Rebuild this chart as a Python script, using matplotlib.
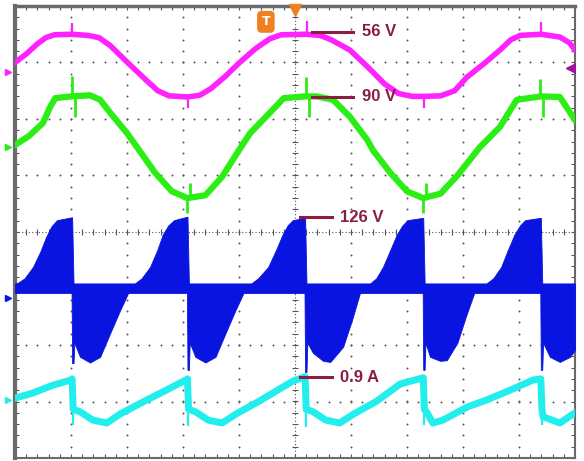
import numpy as np
import matplotlib
matplotlib.use("Agg")
import matplotlib.pyplot as plt
from matplotlib.ticker import MultipleLocator

# scope screen, x and y in divisions (10 x 8, centre at x=5, y=0)
mag_t = [0.00, 0.20, 0.40, 0.55, 0.70, 1.00, 1.30, 1.50, 1.70, 2.02, 2.35, 2.55, 2.75, 3.08, 3.30,
         3.50, 3.75, 4.00, 4.30, 4.55, 4.75, 5.18, 5.45, 5.65, 5.98, 6.30, 6.60, 6.85, 7.10, 7.30,
         7.60, 7.85, 8.07, 8.40, 8.66, 8.85, 9.02, 9.40, 9.73, 9.90, 10.0]
mag_v = [3.00, 3.15, 3.33, 3.44, 3.49, 3.50, 3.48, 3.44, 3.30, 2.99, 2.68, 2.50, 2.41, 2.39, 2.42,
         2.54, 2.75, 2.99, 3.25, 3.42, 3.49, 3.50, 3.48, 3.40, 3.22, 2.92, 2.62, 2.45, 2.40, 2.40,
         2.41, 2.50, 2.74, 3.00, 3.22, 3.40, 3.48, 3.50, 3.45, 3.35, 3.22]
mag_spk_t = [1.02, 3.09, 5.21, 7.30, 9.40]
mag_spk_v = [3.70, 2.20, 3.74, 2.20, 3.71]

grn_t = [0.00, 0.25, 0.50, 0.62, 0.72, 1.00, 1.34, 1.52, 1.70, 2.00, 2.18, 2.50, 2.80, 3.08, 3.40,
         3.70, 4.00, 4.20, 4.54, 4.80, 5.18, 5.39, 5.68, 5.98, 6.29, 6.39, 6.70, 7.00, 7.29, 7.60,
         7.90, 8.30, 8.66, 8.96, 9.39, 9.73, 10.0]
grn_v = [1.54, 1.70, 1.93, 2.20, 2.37, 2.40, 2.42, 2.34, 2.11, 1.75, 1.50, 1.05, 0.72, 0.60, 0.65,
         0.98, 1.45, 1.75, 2.10, 2.37, 2.40, 2.40, 2.34, 2.04, 1.63, 1.45, 1.05, 0.72, 0.60, 0.68,
         1.00, 1.50, 1.86, 2.34, 2.40, 2.39, 1.98]
grn_spk_t = [1.02, 3.08, 5.20, 7.29, 9.38]
grn_spk_v = [2.76, 0.34, 2.74, 0.34, 2.71]
grn_notch_t = [1.07, 3.13, 5.25, 7.34, 9.43]
grn_notch_v = [2.04, 0.86, 2.04, 0.86, 2.04]

blu_t = [0.00, 0.05, 0.17, 0.32, 0.45, 0.55, 0.65, 0.75, 1.01,
         1.02, 1.045, 1.06, 1.16, 1.34, 1.52, 1.70, 1.87, 2.02,
         2.14, 2.26, 2.41, 2.54, 2.64, 2.74, 2.84, 3.07,
         3.08, 3.105, 3.12, 3.22, 3.40, 3.58, 3.76, 3.93, 4.08,
         4.22, 4.34, 4.52, 4.66, 4.78, 4.87, 4.96, 5.17,
         5.18, 5.205, 5.22, 5.32, 5.50, 5.63, 5.86, 6.02, 6.16,
         6.34, 6.45, 6.57, 6.70, 6.82, 6.92, 7.01, 7.28,
         7.29, 7.315, 7.33, 7.41, 7.59, 7.71, 7.90, 8.05, 8.20,
         8.42, 8.54, 8.68, 8.80, 8.92, 9.02, 9.11, 9.38,
         9.39, 9.415, 9.43, 9.55, 9.73, 9.91, 10.0]
blu_hi = [-0.91, -0.90, -0.82, -0.62, -0.35, -0.10, 0.10, 0.21, 0.26,
          0.26, -0.91, -0.91, -0.91, -0.91, -0.91, -0.91, -0.91, -0.91,
          -0.91, -0.82, -0.62, -0.32, -0.04, 0.12, 0.21, 0.27,
          0.27, -0.91, -0.91, -0.91, -0.91, -0.91, -0.91, -0.91, -0.91,
          -0.91, -0.82, -0.62, -0.32, -0.04, 0.12, 0.21, 0.25,
          0.25, -0.91, -0.91, -0.91, -0.91, -0.91, -0.91, -0.91, -0.91,
          -0.91, -0.82, -0.62, -0.32, -0.04, 0.12, 0.21, 0.25,
          0.25, -0.91, -0.91, -0.91, -0.91, -0.91, -0.91, -0.91, -0.91,
          -0.91, -0.82, -0.62, -0.32, -0.04, 0.12, 0.21, 0.25,
          0.25, -0.91, -0.91, -0.91, -0.91, -0.91, -0.91]
blu_lo = [-1.08, -1.08, -1.08, -1.08, -1.08, -1.08, -1.08, -1.08, -1.08,
          -2.32, -2.32, -1.96, -2.21, -2.31, -2.21, -1.79, -1.40, -1.08,
          -1.08, -1.08, -1.08, -1.08, -1.08, -1.08, -1.08, -1.08,
          -2.44, -2.44, -1.96, -2.21, -2.31, -2.21, -1.79, -1.40, -1.08,
          -1.08, -1.08, -1.08, -1.08, -1.08, -1.08, -1.08, -1.08,
          -2.48, -2.48, -1.96, -2.14, -2.28, -2.30, -2.03, -1.55, -1.08,
          -1.08, -1.08, -1.08, -1.08, -1.08, -1.08, -1.08, -1.08,
          -2.44, -2.44, -1.96, -2.21, -2.28, -2.27, -1.96, -1.50, -1.08,
          -1.08, -1.08, -1.08, -1.08, -1.08, -1.08, -1.08, -1.08,
          -2.44, -2.44, -1.96, -2.21, -2.30, -2.21, -2.09]

cyn_t = [0.00, 0.32, 0.68, 1.00, 1.02, 1.04, 1.16, 1.39, 1.64, 1.88, 2.30, 2.70, 3.05, 3.08, 3.10,
         3.22, 3.45, 3.70, 3.95, 4.35, 4.96, 5.18, 5.20, 5.32, 5.55, 5.80, 6.05, 6.45, 6.88, 7.29,
         7.31, 7.36, 7.46, 7.64, 8.07, 8.43, 8.84, 9.25, 9.39, 9.41, 9.43, 9.73, 10.0]
cyn_v = [-2.94, -2.85, -2.71, -2.62, -2.60, -3.14, -3.18, -3.33, -3.38, -3.22, -3.00, -2.80, -2.62, -2.60, -3.14,
         -3.18, -3.33, -3.38, -3.22, -3.00, -2.64, -2.56, -3.14, -3.18, -3.33, -3.38, -3.22, -3.00, -2.69, -2.58,
         -3.14, -3.20, -3.38, -3.33, -3.10, -2.97, -2.80, -2.62, -2.60, -3.14, -3.27, -3.38, -3.20]
cyn_spk_t = [1.035, 3.095, 5.195, 7.305, 9.405]
cyn_spk_v = [-3.42, -3.44, -3.46, -3.42, -3.42]

# level labels
labels = ["56 V", "90 V", "126 V", "0.9 A"]
label_v = [3.54, 2.39, 0.265, -2.57]
label_x0 = [5.30, 5.30, 5.09, 5.09]
label_x1 = [6.04, 6.04, 5.66, 5.66]
label_tx = [6.20, 6.20, 5.80, 5.80]

MAG, GRN, BLU, CYN = "#FF22FF", "#2AEE14", "#0A14E0", "#22EEEE"
RED = "#8B1E3F"
GRID = "#555555"

fig = plt.figure(figsize=(5.84, 4.61), dpi=100)
ax = fig.add_axes([15 / 584, 3 / 461, 560 / 584, 452 / 461])
ax.set_xlim(0, 10)
ax.set_ylim(-4, 4)

# dotted graticule
dots = np.arange(0, 10.01, 0.2)
dots_y = np.arange(-4, 4.01, 0.2)
for gx in range(1, 10):
    if gx != 5:
        ax.scatter(np.full(dots_y.size, gx), dots_y, s=2, c=GRID, lw=0, zorder=1)
for gy in range(-3, 4):
    if gy != 0:
        ax.scatter(dots, np.full(dots.size, gy), s=2, c=GRID, lw=0, zorder=1)
ax.axhline(0, color=GRID, lw=0.8, ls=(0, (1, 2)), zorder=1)
ax.axvline(5, color=GRID, lw=0.8, ls=(0, (1, 2)), zorder=1)
ax.scatter(dots, np.zeros(dots.size), marker="|", s=18, c=GRID, lw=0.8, zorder=1)
ax.scatter(np.full(dots_y.size, 5), dots_y, marker="_", s=18, c=GRID, lw=0.8, zorder=1)

# traces
ax.plot(mag_t, mag_v, color=MAG, lw=4, solid_joinstyle="round", zorder=3)
ax.vlines(mag_spk_t, np.interp(mag_spk_t, mag_t, mag_v), mag_spk_v, color=MAG, lw=1.6, zorder=3)

ax.plot(grn_t, grn_v, color=GRN, lw=4.5, solid_joinstyle="round", zorder=3)
ax.vlines(grn_spk_t, np.interp(grn_spk_t, grn_t, grn_v), grn_spk_v, color=GRN, lw=2, zorder=3)
ax.vlines(grn_notch_t, np.interp(grn_notch_t, grn_t, grn_v), grn_notch_v, color=GRN, lw=2, zorder=3)

ax.fill_between(blu_t, blu_lo, blu_hi, color=BLU, lw=0.6, edgecolor=BLU, zorder=3)

ax.plot(cyn_t, cyn_v, color=CYN, lw=5, solid_joinstyle="round", zorder=3)
ax.vlines(cyn_spk_t, np.interp(cyn_spk_t, cyn_t, cyn_v), cyn_spk_v, color=CYN, lw=1.6, zorder=3)

# level markers
for txt, v, x0, x1, tx in zip(labels, label_v, label_x0, label_x1, label_tx):
    ax.plot([x0, x1], [v, v], color=RED, lw=2.2, zorder=5)
    ax.text(tx, v, txt, color=RED, fontsize=12, fontweight="bold",
            family="Liberation Sans", va="center", ha="left", zorder=5)

# trigger / channel markers
ax.plot([5.0], [3.93], marker="v", ms=9, color="#F08020", mec="#F08020", clip_on=False, zorder=6)
ax.text(4.48, 3.72, "T", color="white", fontsize=9, fontweight="bold", ha="center", va="center",
        bbox=dict(boxstyle="round,pad=0.3", fc="#F08020", ec="#F08020"), zorder=6)
ax.plot([9.93], [2.90], marker="<", ms=7, color="#A0109A", zorder=6)
ax.plot([9.93, 10.0], [2.90, 2.90], color="#A0109A", lw=1.5, zorder=6)
for v, c in zip([2.83, 1.50, -1.17, -2.97], [MAG, GRN, BLU, CYN]):
    ax.plot([-0.12], [v], marker=">", ms=5, color=c, clip_on=False, zorder=6)

# frame with inward ticks
ax.xaxis.set_major_locator(MultipleLocator(0.2))
ax.yaxis.set_major_locator(MultipleLocator(0.2))
ax.tick_params(which="both", direction="in", length=3, width=0.8, color=GRID,
               top=True, right=True, labelbottom=False, labelleft=False)
for side, w in [("left", 3.0), ("top", 2.5), ("right", 1.5), ("bottom", 1.5)]:
    ax.spines[side].set_linewidth(w)
    ax.spines[side].set_color("#6A6A6A")

fig.savefig("out.png", dpi=100)
